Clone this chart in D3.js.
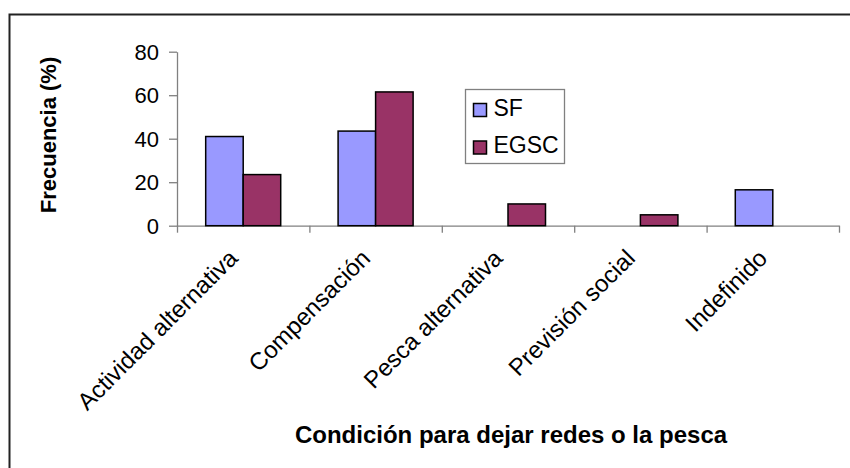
<!DOCTYPE html>
<html>
<head>
<meta charset="utf-8">
<script src="https://cdn.jsdelivr.net/npm/d3@7/dist/d3.min.js"></script>
<style>
  body { margin: 0; background: #fff; }
  text { font-family: 'Liberation Sans', Arial, sans-serif; fill: #000; }
</style>
</head>
<body>
<div id="chart"></div>
<script>
// chart data
var categories = ['Actividad alternativa', 'Compensación', 'Pesca alternativa', 'Previsión social', 'Indefinido']
var series = ['SF', 'EGSC']
var sfValues = [41, 43.5, 0, 0, 16.5]
var egscValues = [23.5, 61.5, 10, 5, 0]
var yTicks = [0, 20, 40, 60, 80]
var colors = ['#9999ff', '#993366']

var width = 850
var height = 468
var margin = { top: 51.7, right: 11, bottom: 242.3, left: 177 }
var plotW = width - margin.left - margin.right
var plotH = height - margin.top - margin.bottom

var svg = d3.select('#chart').append('svg')
  .attr('width', width)
  .attr('height', height)

// outer frame (right/bottom edges run off the picture)
svg.append('rect')
  .attr('x', 9.5).attr('y', 14.5)
  .attr('width', width + 20).attr('height', height + 20)
  .attr('fill', '#fff')
  .attr('stroke', '#222')
  .attr('stroke-width', 2)

var g = svg.append('g')
  .attr('transform', 'translate(' + margin.left + ',' + margin.top + ')')

// scales
var x0 = d3.scaleBand().domain(categories).range([0, plotW])
var x1 = d3.scaleBand().domain(series).range([0, x0.bandwidth()]).paddingOuter(0.765)
var y = d3.scaleLinear().domain([0, 80]).range([plotH, 0])
var xEdges = d3.scaleLinear().domain([0, categories.length]).range([0, plotW])

var rows = categories.map(function (c, i) {
  return { cat: c, values: [sfValues[i], egscValues[i]] }
})

// y axis
var yAxis = g.append('g')
  .call(d3.axisLeft(y).tickValues(yTicks).tickSize(8).tickSizeOuter(0).tickPadding(10))
yAxis.selectAll('text').style('font-size', '22px').attr('dy', '0.35em')

// x axis with ticks at category boundaries
g.append('g')
  .attr('transform', 'translate(0,' + plotH + ')')
  .call(d3.axisBottom(xEdges).tickValues(d3.range(categories.length + 1)).tickFormat('').tickSize(7).tickSizeOuter(0))

g.selectAll('.domain, .tick line').attr('stroke', '#808080').attr('stroke-width', 1.3)

// bars
var groups = g.selectAll('.grp')
  .data(rows)
  .enter().append('g')
  .attr('class', 'grp')
  .attr('transform', function (d) { return 'translate(' + x0(d.cat) + ',0)' })

groups.selectAll('rect')
  .data(function (d) {
    return d.values.map(function (v, i) { return { key: series[i], value: v, idx: i } })
      .filter(function (e) { return e.value > 0 })
  })
  .enter().append('rect')
  .attr('x', function (d) { return x1(d.key) })
  .attr('width', x1.bandwidth())
  .attr('y', function (d) { return y(d.value) })
  .attr('height', function (d) { return plotH - y(d.value) })
  .attr('fill', function (d) { return colors[d.idx] })
  .attr('stroke', '#000')
  .attr('stroke-width', 1.5)

// rotated category labels
g.selectAll('.cat')
  .data(categories)
  .enter().append('text')
  .attr('class', 'cat')
  .attr('text-anchor', 'end')
  .attr('transform', function (d) {
    return 'translate(' + (x0(d) + x0.bandwidth() / 2 - 4) + ',' + (plotH + 34) + ') rotate(-45)'
  })
  .style('font-size', '24px')
  .text(function (d) { return d })

// axis titles
svg.append('text')
  .attr('x', margin.left + plotW / 2 + 3)
  .attr('y', 443)
  .attr('text-anchor', 'middle')
  .style('font-size', '24px')
  .style('font-weight', 'bold')
  .text('Condición para dejar redes o la pesca')

svg.append('text')
  .attr('transform', 'translate(56,135) rotate(-90)')
  .attr('text-anchor', 'middle')
  .style('font-size', '22px')
  .style('font-weight', 'bold')
  .text('Frecuencia (%)')

// legend
var legend = svg.append('g').attr('transform', 'translate(465.5,89.5)')
legend.append('rect')
  .attr('width', 99).attr('height', 74)
  .attr('fill', '#fff')
  .attr('stroke', '#808080')
  .attr('stroke-width', 1.3)

var items = legend.selectAll('.item')
  .data(series)
  .enter().append('g')
  .attr('class', 'item')
  .attr('transform', function (d, i) { return 'translate(8,' + (14 + i * 37.5) + ')' })

items.append('rect')
  .attr('width', 13).attr('height', 13)
  .attr('fill', function (d, i) { return colors[i] })
  .attr('stroke', '#000')
  .attr('stroke-width', 1.5)

items.append('text')
  .attr('x', 20)
  .attr('y', 12)
  .style('font-size', '23px')
  .text(function (d) { return d })
</script>
</body>
</html>
